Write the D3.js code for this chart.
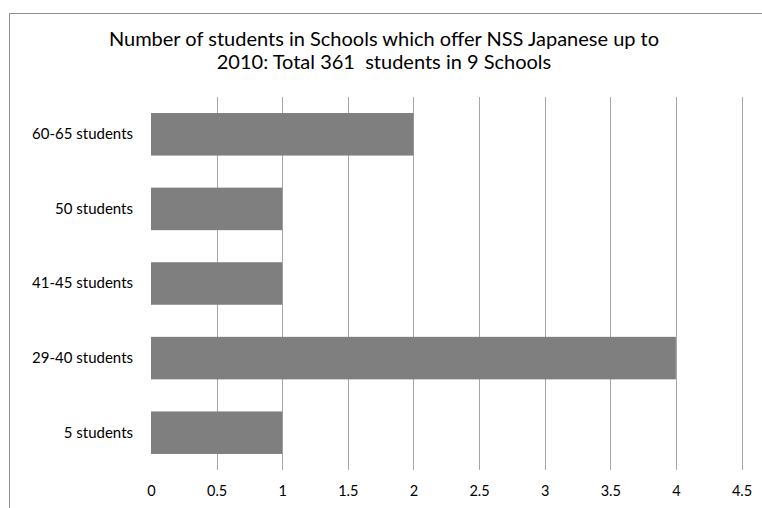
<!DOCTYPE html>
<html>
<head>
<meta charset="utf-8">
<script src="https://cdn.jsdelivr.net/npm/d3@7"></script>
<style>
  html, body { margin: 0; padding: 0; background: #fff; }
  svg text { font-family: Lato, "Open Sans", sans-serif; fill: #000; }
</style>
</head>
<body>
<svg id="chart" width="762" height="508"></svg>
<script>
// Student counts per school, grouped by class size
const categories = ["60-65 students", "50 students", "41-45 students", "29-40 students", "5 students"];
const schoolCounts = [2, 1, 1, 4, 1];
const tickValues = [0, 0.5, 1, 1.5, 2, 2.5, 3, 3.5, 4, 4.5];
const titleLines = [
  "Number of students in Schools which offer NSS Japanese up to",
  "2010: Total 361  students in 9 Schools"
];

const svg = d3.select("#chart");
const plot = { left: 151, right: 741.5, top: 97, bottom: 470 };

// Chart frame (top and left edges)
svg.append("path")
  .attr("d", "M9.5,508 V13.5 H762")
  .attr("fill", "none")
  .attr("stroke", "#8c8c8c")
  .attr("stroke-width", 1);

const x = d3.scaleLinear().domain([0, 4.5]).range([plot.left, plot.right]);
const y = d3.scaleBand().domain(categories).range([plot.top, plot.bottom]).paddingInner(0.43).paddingOuter(0.215);

// Vertical gridlines
svg.append("g")
  .selectAll("line")
  .data(tickValues.filter(v => v > 0))
  .join("line")
  .attr("x1", d => Math.round(x(d)) + 0.5)
  .attr("x2", d => Math.round(x(d)) + 0.5)
  .attr("y1", plot.top)
  .attr("y2", plot.bottom)
  .attr("stroke", "#a6a6a6")
  .attr("stroke-width", 1);

// Bars
svg.append("g")
  .selectAll("rect")
  .data(categories.map((c, i) => ({ c, v: schoolCounts[i] })))
  .join("rect")
  .attr("x", x(0))
  .attr("y", d => y(d.c))
  .attr("width", d => x(d.v) - x(0))
  .attr("height", y.bandwidth())
  .attr("fill", "#7f7f7f");

// X axis labels
const xAxis = d3.axisBottom(x).tickValues(tickValues).tickSize(0).tickPadding(16)
  .tickFormat(d => String(d));
const gx = svg.append("g").attr("transform", `translate(0,${plot.bottom})`).call(xAxis);
gx.select(".domain").remove();
gx.selectAll("text").attr("font-size", 14.5).attr("fill", "#000").style("font-family", "Lato, sans-serif");

// Y axis labels
const yAxis = d3.axisLeft(y).tickSize(0).tickPadding(18);
const gy = svg.append("g").attr("transform", `translate(${plot.left},0)`).call(yAxis);
gy.select(".domain").remove();
gy.selectAll("text").attr("font-size", 15).attr("fill", "#000").style("font-family", "Lato, sans-serif");

// Title
svg.append("text")
  .attr("y", 46)
  .attr("text-anchor", "middle")
  .attr("font-size", 20)
  .style("white-space", "pre")
  .selectAll("tspan")
  .data(titleLines)
  .join("tspan")
  .attr("x", 384)
  .attr("dy", (d, i) => i === 0 ? 0 : 23)
  .text(d => d);
</script>
</body>
</html>
